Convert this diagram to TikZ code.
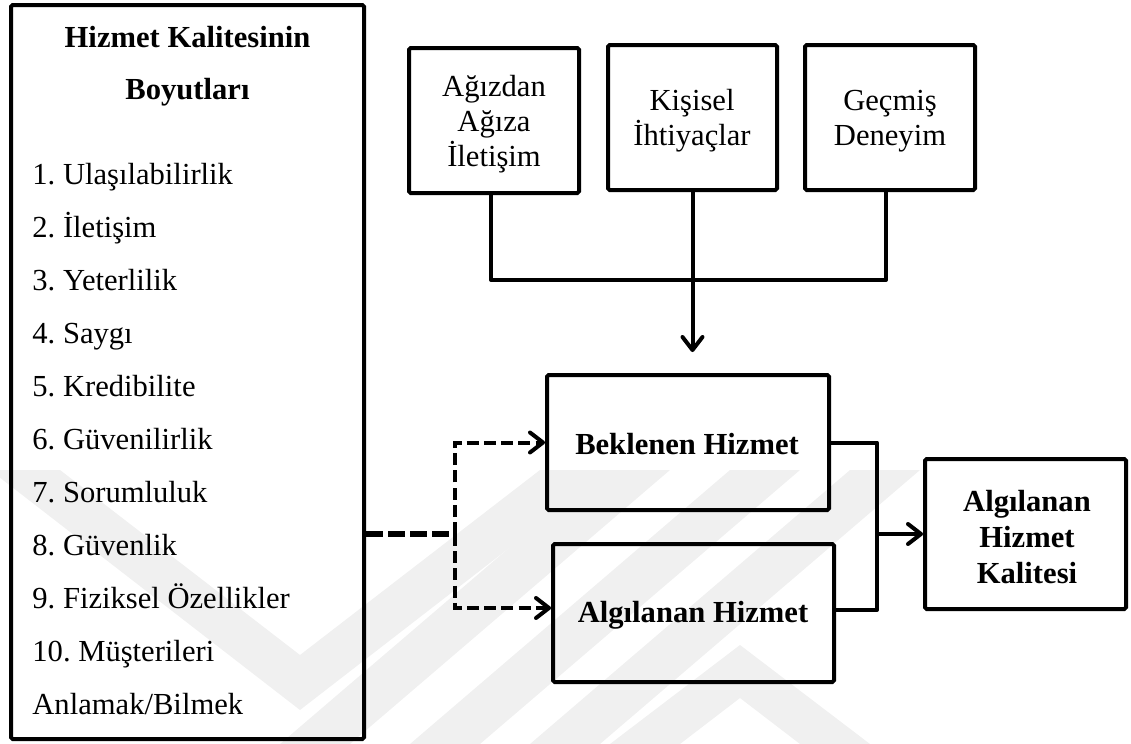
\documentclass[tikz,border=0pt]{standalone}
\usepackage{fontspec}
\setmainfont{Liberation Serif}
\usetikzlibrary{arrows.meta}
\frenchspacing
\begin{document}
\begin{tikzpicture}[x=0.5pt,y=-0.5pt,
  box/.style={draw, line width=2pt, rounded corners=0.8pt, inner sep=0pt},
  txt/.style={inner sep=0pt, font=\fontsize{15.3}{17.5}\selectfont, align=center},
  link/.style={line width=2pt, line join=round},
  tip/.style={-{Straight Barb[length=6.5pt,width=10pt,line width=2pt,round]}},
  arr/.style={link, tip},
  dashlink/.style={line width=2pt, dash pattern=on 6pt off 2.6pt, tip},
  dashthick/.style={line width=3pt, dash pattern=on 8.5pt off 2.5pt},
  mark/.style={fill=black!6, draw=none}]
\useasboundingbox (0,0) rectangle (1131,744);

% faint background emblem
\begin{scope}
  \clip (0,470) rectangle (1131,744);
  \fill[black!6] (-10,470) -- (60,470) -- (300,655) -- (540,470) -- (610,470)
    -- (300,710) -- cycle;
  \fill[black!6] (600,470) -- (670,470) -- (350,744) -- (280,744) -- cycle;
  \fill[black!6] (730,470) -- (800,470) -- (480,744) -- (410,744) -- cycle;
  \fill[black!6] (850,470) -- (920,470) -- (600,744) -- (530,744) -- cycle;
  \fill[black!6] (740,645) -- (870,744) -- (800,744) -- (740,698) -- (680,744)
    -- (610,744) -- cycle;
\end{scope}

% dimensions list
\node[box, minimum width=176.5pt, minimum height=367pt] (L) at (187.5,372) {};
\node[txt, anchor=base] (h1) at (187.5,47) {\bfseries Hizmet Kalitesinin};
\node[txt, anchor=base] (h2) at (187.5,99) {\bfseries Boyutları};
\node[txt, anchor=base west] (i1) at (32,184) {1. Ulaşılabilirlik};
\node[txt, anchor=base west] (i2) at (32,237) {2. İletişim};
\node[txt, anchor=base west] (i3) at (32,290) {3. Yeterlilik};
\node[txt, anchor=base west] (i4) at (32,343) {4. Saygı};
\node[txt, anchor=base west] (i5) at (32,396) {5. Kredibilite};
\node[txt, anchor=base west] (i6) at (32,449) {6. Güvenilirlik};
\node[txt, anchor=base west] (i7) at (32,502) {7. Sorumluluk};
\node[txt, anchor=base west] (i8) at (32,555) {8. Güvenlik};
\node[txt, anchor=base west] (i9) at (32,608) {9. Fiziksel Özellikler};
\node[txt, anchor=base west] (i10) at (32,661) {10. Müşterileri};
\node[txt, anchor=base west] (i11) at (32,714) {Anlamak/Bilmek};

% expectation sources
\node[box, minimum width=85pt, minimum height=72.5pt] (A) at (494,120.5) {};
\node[txt] (At) at (494,124) {Ağızdan\\Ağıza\\İletişim};
\node[box, minimum width=84.5pt, minimum height=72.5pt] (K) at (692.5,117.5) {};
\node[txt] (Kt) at (692,121) {Kişisel\\İhtiyaçlar};
\node[box, minimum width=85pt, minimum height=72.5pt] (G) at (890,117.5) {};
\node[txt] (Gt) at (890,121) {Geçmiş\\Deneyim};

% expected and perceived service
\node[box, minimum width=141pt, minimum height=67.5pt] (B) at (688,442.5) {};
\node[txt, font=\fontsize{15.3}{17.5}\bfseries] (Bt) at (687,444) {Beklenen Hizmet};
\node[box, minimum width=140.5pt, minimum height=69pt] (P) at (693.5,613) {};
\node[txt, font=\fontsize{15.3}{17.5}\bfseries] (Pt) at (693,615) {Algılanan Hizmet};
\node[box, minimum width=100.5pt, minimum height=75pt] (Q) at (1025.5,534) {};
\node[txt, font=\fontsize{15.3}{18}\bfseries] (Qt) at (1027,537)
  {Algılanan\\Hizmet\\Kalitesi};

% connectors
\draw[link] ([xshift=-1.5pt]A.south) -- ++(0,85) -| ([xshift=-2pt]G.south);
\draw[arr, shorten >=10.5pt] (K.south) -- (K.south |- B.north);

\coordinate (dj) at (455,534);
\draw[dashthick] (L.east |- Q.west) -- (dj);
\draw[dashlink] (dj) |- (B.west);
\draw[dashlink] (dj) |- ([yshift=2.5pt]P.west);

\coordinate (mx) at (877,534);
\draw[link] (B.east) -| (mx) |- ([yshift=1.5pt]P.east);
\draw[arr] (mx) -- (Q.west);
\end{tikzpicture}
\end{document}
